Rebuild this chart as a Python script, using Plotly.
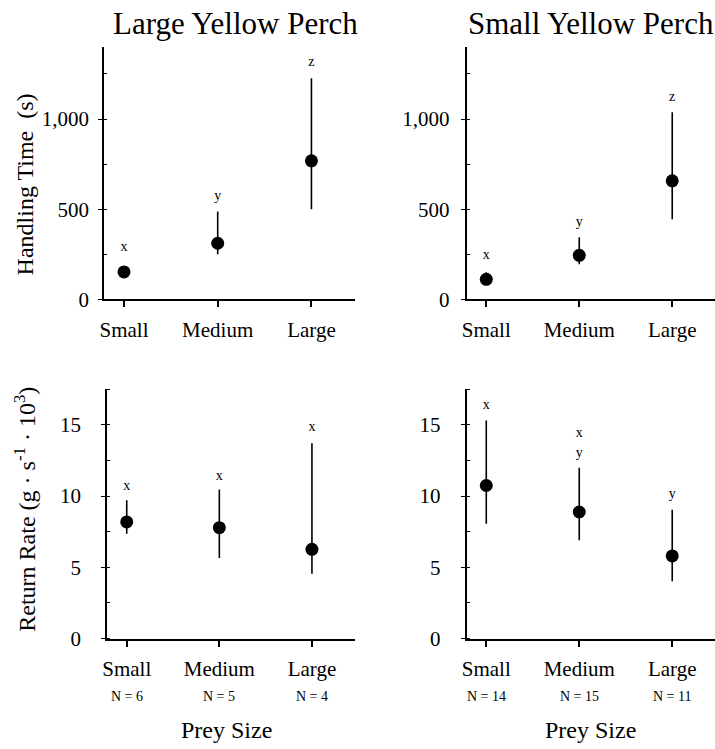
import plotly.graph_objects as go

W, H = 715, 749
FONT = "Liberation Serif"
K = 1.014  # vertical correction

categories = ["Small", "Medium", "Large"]

# Handling time (s)
ht_large_mean = [152, 311, 768]
ht_large_hi = [185, 487, 1226]
ht_large_lo = [125, 250, 500]
ht_large_letters = ["x", "y", "z"]
ht_large_letter_y = [290, 570, 1316]

ht_small_mean = [111, 244, 657]
ht_small_hi = [150, 344, 1037]
ht_small_lo = [85, 194, 444]
ht_small_letters = ["x", "y", "z"]
ht_small_letter_y = [244, 428, 1120]

# Return rate (g s^-1 10^3)
rr_large_mean = [8.18, 7.78, 6.26]
rr_large_hi = [9.7, 10.46, 13.7]
rr_large_lo = [7.36, 5.65, 4.55]
rr_large_letters = ["x", "x", "x"]
rr_large_letter_y = [10.7, 11.4, 14.8]
rr_large_n = ["N = 6", "N = 5", "N = 4"]

rr_small_mean = [10.74, 8.88, 5.8]
rr_small_hi = [15.3, 11.98, 9.04]
rr_small_lo = [8.06, 6.89, 4.02]
rr_small_letter_x = ["Small", "Medium", "Medium", "Large"]
rr_small_letters = ["x", "x", "y", "y"]
rr_small_letter_y = [16.35, 14.4, 12.96, 10.1]
rr_small_n = ["N = 14", "N = 15", "N = 11"]

ht_ticks = [0, 500, 1000]
rr_ticks = [0, 5, 10, 15]


def px_x(a, b):
    return [a / W, b / W]


def py(v):
    return 1 - (v * K) / H


def px_y(top, bottom):
    return [py(bottom), py(top)]


fig = go.Figure()

panels = [
    ("x", "y", ht_large_mean, ht_large_hi, ht_large_lo, categories, ht_large_letters, ht_large_letter_y),
    ("x2", "y2", ht_small_mean, ht_small_hi, ht_small_lo, categories, ht_small_letters, ht_small_letter_y),
    ("x3", "y3", rr_large_mean, rr_large_hi, rr_large_lo, categories, rr_large_letters, rr_large_letter_y),
    ("x4", "y4", rr_small_mean, rr_small_hi, rr_small_lo, rr_small_letter_x, rr_small_letters, rr_small_letter_y),
]

for xa, ya, mean, hi, lo, lx, letters, ly in panels:
    fig.add_trace(go.Scatter(
        x=categories, y=mean, mode="markers", xaxis=xa, yaxis=ya,
        marker=dict(color="black", size=13, symbol="circle"),
        error_y=dict(type="data", symmetric=False,
                     array=[h - m for h, m in zip(hi, mean)],
                     arrayminus=[m - l for m, l in zip(mean, lo)],
                     color="black", thickness=1.6, width=0),
        showlegend=False, hoverinfo="skip",
    ))
    fig.add_trace(go.Scatter(
        x=lx, y=ly, mode="text", text=letters, xaxis=xa, yaxis=ya,
        textfont=dict(family=FONT, size=14, color="black"),
        textposition="middle center", showlegend=False, hoverinfo="skip",
    ))

common_x = dict(
    type="category", categoryorder="array", categoryarray=categories,
    showline=True, linecolor="black", linewidth=2, mirror=False,
    ticks="outside", ticklen=6, tickwidth=1.5, tickcolor="black",
    showgrid=False, zeroline=False, ticklabelstandoff=4,
    tickfont=dict(family=FONT, size=21, color="black"),
    range=[-0.21, 2.46],
)
common_y = dict(
    showline=True, linecolor="black", linewidth=2,
    ticks="outside", ticklen=4, tickwidth=1.2, tickcolor="black",
    showgrid=False, zeroline=False,
    tickfont=dict(family=FONT, size=21, color="black"),
)

fig.update_layout(
    width=W, height=H,
    margin=dict(l=0, r=0, t=0, b=0),
    paper_bgcolor="white", plot_bgcolor="white",
    font=dict(family=FONT, color="black"),
    xaxis=dict(common_x, domain=px_x(100, 352), anchor="y"),
    yaxis=dict(common_y, domain=px_y(47, 300), anchor="x", range=[0, 1400],
               tickvals=ht_ticks, ticktext=[f"{v:,}" for v in ht_ticks], ticklabelstandoff=5,
               minor=dict(dtick=250, ticks="inside", ticklen=3, tickcolor="black", showgrid=False)),
    xaxis2=dict(common_x, domain=px_x(465, 715), anchor="y2"),
    yaxis2=dict(common_y, domain=px_y(47, 300), anchor="x2", range=[0, 1400],
                tickvals=ht_ticks, ticktext=[f"{v:,}" for v in ht_ticks], ticklabelstandoff=7,
                minor=dict(dtick=250, ticks="inside", ticklen=3, tickcolor="black", showgrid=False)),
    xaxis3=dict(common_x, domain=px_x(103, 352), anchor="y3"),
    yaxis3=dict(common_y, domain=px_y(390, 640), anchor="x3", range=[0, 17.5],
                tickvals=rr_ticks, ticktext=[str(v) for v in rr_ticks], ticklabelstandoff=16,
                minor=dict(dtick=2.5, ticks="inside", ticklen=3, tickcolor="black", showgrid=False)),
    xaxis4=dict(common_x, domain=px_x(465, 715), anchor="y4"),
    yaxis4=dict(common_y, domain=px_y(390, 640), anchor="x4", range=[0, 17.5],
                tickvals=rr_ticks, ticktext=[str(v) for v in rr_ticks], ticklabelstandoff=16,
                minor=dict(dtick=2.5, ticks="inside", ticklen=3, tickcolor="black", showgrid=False)),
)

ann = []
for t, cx in (("Large Yellow Perch", 232), ("Small Yellow Perch", 590)):
    ann.append(dict(text=t, x=cx / W, y=py(24), xref="paper", yref="paper",
                    showarrow=False, font=dict(family=FONT, size=31, color="black"),
                    xanchor="center", yanchor="middle"))
ann.append(dict(text="Handling Time  (s)", x=20 / W, y=py(185), xref="paper", yref="paper",
                showarrow=False, textangle=-90, font=dict(family=FONT, size=24, color="black"),
                xanchor="center", yanchor="middle"))
ann.append(dict(text="Return Rate (g · s<sup>-1</sup> · 10<sup>3</sup>)", x=20 / W, y=py(510),
                xref="paper", yref="paper", showarrow=False, textangle=-90,
                font=dict(family=FONT, size=24, color="black"), xanchor="center", yanchor="middle"))
for xr, labels in (("x3", rr_large_n), ("x4", rr_small_n)):
    for c, t in zip(categories, labels):
        ann.append(dict(text=t, x=c, y=py(698), xref=xr, yref="paper", showarrow=False,
                        font=dict(family=FONT, size=14, color="black"),
                        xanchor="center", yanchor="middle"))
for cx in (223, 590):
    ann.append(dict(text="Prey Size", x=cx / W, y=py(732), xref="paper", yref="paper",
                    showarrow=False, font=dict(family=FONT, size=24, color="black"),
                    xanchor="center", yanchor="middle"))
fig.update_layout(annotations=ann)

fig.write_html("out.html")
